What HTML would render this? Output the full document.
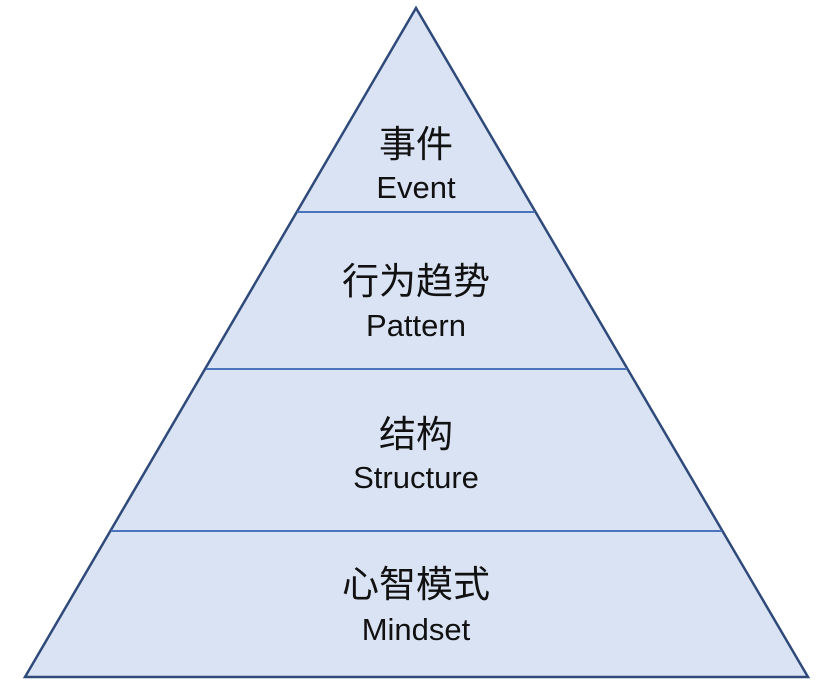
<!DOCTYPE html>
<html><head><meta charset="utf-8"><style>
html,body{margin:0;padding:0;background:#fff;width:831px;height:699px;overflow:hidden}
svg text{font-family:"Liberation Sans","Noto Sans CJK SC",sans-serif;fill:#111;text-anchor:middle}
</style></head><body>
<svg width="831" height="699" viewBox="0 0 831 699" xmlns="http://www.w3.org/2000/svg">
<polygon points="416,8 25,677 808,677" fill="#dae3f3" stroke="#2f4a7a" stroke-width="2.5" stroke-linejoin="miter"/>
<g stroke="#4a75bd" stroke-width="2">
<line x1="297" y1="212" x2="535" y2="212"/>
<line x1="206" y1="369" x2="627" y2="369"/>
<line x1="111" y1="531" x2="722" y2="531"/>
</g>
<g font-size="37">
<text x="416" y="157">事件</text>
<text x="416" y="294">行为趋势</text>
<text x="416" y="447">结构</text>
<text x="416" y="597">心智模式</text>
</g>
<g font-size="31">
<text x="416" y="198">Event</text>
<text x="416" y="336">Pattern</text>
<text x="416" y="488">Structure</text>
<text x="416" y="640">Mindset</text>
</g>
</svg>
</body></html>
